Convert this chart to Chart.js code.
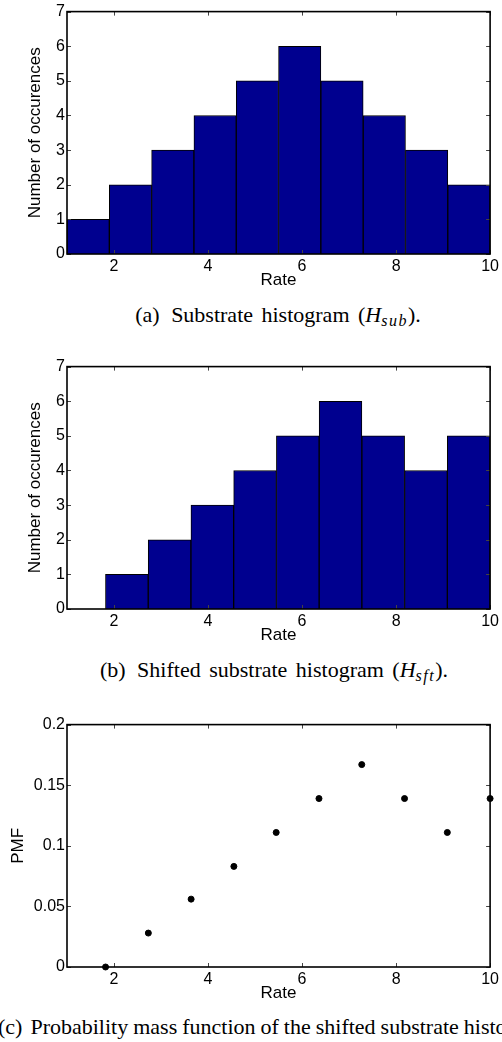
<!DOCTYPE html>
<html>
<head>
<meta charset="utf-8">
<script src="https://cdn.jsdelivr.net/npm/chart.js@4.4.1/dist/chart.umd.min.js"></script>
<style>
  body { margin: 0; width: 502px; height: 1042px; overflow: hidden; background: #fff; position: relative; }
  .plot { position: absolute; left: 0; width: 502px; height: 291px; }
  .cap { position: absolute; left: 0; width: 556px; text-align: center; white-space: nowrap; word-spacing: 3px;
         font: 22px/22px "Liberation Serif", "Times New Roman", serif; color: #000; }
  .cap .lbl { margin-right: 3px; }
  .cap i { font-style: italic; }
  .cap sub { font-size: 16px; vertical-align: -4px; line-height: 0; font-style: italic; letter-spacing: 1.5px; }
</style>
</head>
<body>
<canvas id="subChart" class="plot" width="502" height="291" style="top:0px"></canvas>
<div class="cap" style="top:304px"><span class="lbl">(a)</span> Substrate histogram (<i>H</i><sub>sub</sub>).</div>

<canvas id="sftChart" class="plot" width="502" height="291" style="top:355px"></canvas>
<div class="cap" style="top:659px; width:548px"><span class="lbl">(b)</span> Shifted substrate histogram (<i>H</i><sub>sft</sub>).</div>

<canvas id="pmfChart" class="plot" width="502" height="291" style="top:713px"></canvas>
<div class="cap" style="top:1016px; left:-2px; text-align:left; width:auto; word-spacing:-0.5px"><span class="lbl">(c)</span> Probability mass function of the shifted substrate histogram (<i>H</i><sub>sft</sub>).</div>

<script>
// tick positions
const rateTicks = [2, 4, 6, 8, 10];
const countTicks = [0, 1, 2, 3, 4, 5, 6, 7];
const pmfTicks = [0, 0.05, 0.1, 0.15, 0.2];

// (a) substrate histogram, bin centres and counts
const subRates = [1.45, 2.35, 3.25, 4.15, 5.05, 5.95, 6.85, 7.75, 8.65, 9.55];
const subCounts = [1, 2, 3, 4, 5, 6, 5, 4, 3, 2];

// (b) shifted histogram (first bin, 1..1.82, is empty)
const sftRates = [2.273, 3.182, 4.091, 5.0, 5.909, 6.818, 7.727, 8.636, 9.545];
const sftCounts = [1, 2, 3, 4, 5, 6, 5, 4, 5];

// (c) pmf of the shifted histogram
const pmfRates = [1.82, 2.73, 3.64, 4.55, 5.45, 6.36, 7.27, 8.18, 9.09, 10];
const pmfValues = [0, 0.028, 0.056, 0.083, 0.111, 0.139, 0.167, 0.139, 0.111, 0.139];

const barColor = "#00008f";
const tickFont = { family: "'Liberation Sans', Arial, sans-serif", size: 16 };
const titleFont = { family: "'Liberation Sans', Arial, sans-serif", size: 17 };

// matlab style box with inward ticks on all four sides
const boxTicks = {
    id: "boxTicks",
    afterDatasetsDraw(chart) {
        const { ctx, chartArea: a, scales } = chart;
        ctx.save();
        ctx.strokeStyle = "#444";
        ctx.lineWidth = 1;
        ctx.beginPath();
        scales.x.ticks.forEach(t => {
            const px = Math.round(scales.x.getPixelForValue(t.value)) + 0.5;
            ctx.moveTo(px, a.bottom); ctx.lineTo(px, a.bottom - 4);
            ctx.moveTo(px, a.top); ctx.lineTo(px, a.top + 4);
        });
        scales.y.ticks.forEach(t => {
            const py = Math.round(scales.y.getPixelForValue(t.value)) + 0.5;
            ctx.moveTo(a.left, py); ctx.lineTo(a.left + 4, py);
            ctx.moveTo(a.right, py); ctx.lineTo(a.right - 4, py);
        });
        ctx.stroke();
        ctx.strokeStyle = "#000";
        ctx.lineWidth = 1.6;
        ctx.strokeRect(a.left, a.top, a.right - a.left, a.bottom - a.top);
        ctx.restore();
    }
};

function makeScales(yTicks, yMax, yTitle, yTitlePad) {
    return {
        x: {
            type: "linear", min: 1, max: 10, offset: false,
            grid: { display: false, drawTicks: false }, border: { display: false },
            afterBuildTicks: s => { s.ticks = rateTicks.map(v => ({ value: v })); },
            afterFit: s => { s.height = 37; },
            ticks: { color: "#000", font: tickFont, padding: 3, maxRotation: 0 },
            title: { display: true, text: "Rate", color: "#000", font: titleFont, padding: 0 }
        },
        y: {
            min: 0, max: yMax,
            grid: { display: false, drawTicks: false }, border: { display: false },
            afterBuildTicks: s => { s.ticks = yTicks.map(v => ({ value: v })); },
            afterFit: s => { s.width = 67; },
            ticks: { color: "#000", font: tickFont, padding: 2, callback: v => String(v) },
            title: { display: true, text: yTitle, color: "#000", font: titleFont, padding: { top: yTitlePad } }
        }
    };
}

const common = {
    responsive: false,
    animation: false,
    devicePixelRatio: 1,
    layout: { padding: { top: 10, right: 9, left: 0, bottom: 0 } },
    plugins: { legend: { display: false }, tooltip: { enabled: false } }
};

function histChart(id, rates, counts) {
    return new Chart(document.getElementById(id), {
        type: "bar",
        data: {
            datasets: [{
                data: rates.map((r, i) => ({ x: r, y: counts[i] })),
                backgroundColor: barColor,
                borderColor: "#000",
                borderWidth: { top: 1, left: 1, right: 1, bottom: 0 },
                barPercentage: 1,
                categoryPercentage: 1
            }]
        },
        options: { ...common, scales: makeScales(countTicks, 7, "Number of occurences", 25) },
        plugins: [boxTicks]
    });
}

histChart("subChart", subRates, subCounts);
histChart("sftChart", sftRates, sftCounts);

new Chart(document.getElementById("pmfChart"), {
    type: "scatter",
    data: {
        datasets: [{
            data: pmfRates.map((r, i) => ({ x: r, y: pmfValues[i] })),
            backgroundColor: "#000",
            borderColor: "#000",
            pointRadius: 3,
            clip: false
        }]
    },
    options: { ...common, scales: makeScales(pmfTicks, 0.2, "PMF", 8) },
    plugins: [boxTicks]
});
</script>
</body>
</html>
